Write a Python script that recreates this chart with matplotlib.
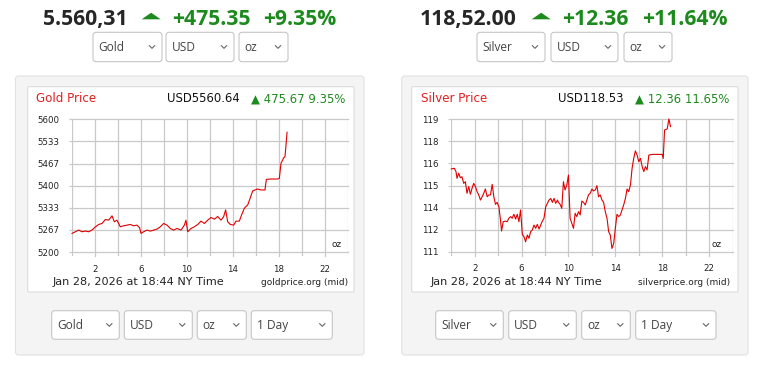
import matplotlib
matplotlib.use('Agg')
import matplotlib.pyplot as plt
from matplotlib.patches import FancyBboxPatch, Polygon
from matplotlib.lines import Line2D
from matplotlib.transforms import Affine2D
import numpy as np

# ---------------- data ----------------
gold_hours = [0.00, 0.29, 0.58, 0.87, 1.16, 1.45, 1.74, 1.97, 2.32, 2.61, 2.90, 3.19, 3.48, 3.68,
              3.91, 4.20, 4.49, 4.78, 5.07, 5.36, 5.65, 5.88, 6.00, 6.23, 6.52, 6.81, 7.10, 7.39,
              7.68, 7.97, 8.26, 8.55, 8.84, 9.13, 9.48, 9.77, 9.91, 10.06, 10.35, 10.64, 10.93,
              11.22, 11.51, 11.80, 12.09, 12.38, 12.67, 12.96, 13.19, 13.36, 13.54, 13.77, 14.06,
              14.26, 14.55, 14.75, 14.99, 15.28, 15.51, 15.71, 15.91, 16.14, 16.43, 16.78, 16.90,
              17.30, 17.88, 18.03, 18.17, 18.41, 18.52, 18.61, 18.70]
gold_prices = [5256, 5261, 5266, 5261, 5263, 5261, 5266, 5274, 5283, 5286, 5298, 5296, 5309, 5291,
               5296, 5276, 5279, 5281, 5283, 5279, 5281, 5273, 5256, 5261, 5266, 5263, 5266, 5269,
               5276, 5286, 5281, 5271, 5266, 5271, 5266, 5281, 5296, 5261, 5271, 5276, 5283,
               5293, 5286, 5296, 5304, 5299, 5307, 5296, 5307, 5327, 5291, 5283, 5281,
               5293, 5293, 5312, 5332, 5342, 5364, 5384, 5387, 5390, 5387, 5387, 5419,
               5420, 5420, 5422, 5467, 5484, 5487, 5523, 5561]

silver_hours = [0.00, 0.26, 0.40, 0.49, 0.63, 0.77, 0.91, 1.06, 1.20, 1.34, 1.49, 1.63, 1.77, 1.91,
                2.06, 2.20, 2.34, 2.49, 2.63, 2.77, 2.91, 3.06, 3.20, 3.34, 3.49, 3.63, 3.77, 3.91,
                4.06, 4.20, 4.29, 4.43, 4.63, 4.77, 4.91, 5.06, 5.20, 5.34, 5.49, 5.63, 5.77, 5.91,
                6.06, 6.20, 6.34, 6.49, 6.63, 6.77, 6.91, 7.06, 7.20, 7.34, 7.49, 7.63, 7.77, 7.91,
                8.06, 8.20, 8.34, 8.49, 8.63, 8.77, 8.91, 9.06, 9.14, 9.29, 9.43, 9.57, 9.71, 9.86,
                10.00, 10.14, 10.29, 10.43, 10.57, 10.71, 10.86, 11.00, 11.14, 11.29, 11.43, 11.57,
                11.71, 11.86, 12.00, 12.14, 12.29, 12.43, 12.57, 12.71, 12.86, 13.00, 13.14, 13.29,
                13.43, 13.57, 13.71, 13.86, 14.00, 14.14, 14.29, 14.43, 14.57, 14.71, 14.86, 15.00,
                15.14, 15.29, 15.43, 15.57, 15.71, 15.86, 16.00, 16.14, 16.29, 16.43, 16.57, 16.71,
                16.86, 17.14, 17.57, 18.00, 18.09, 18.20, 18.43, 18.57, 18.71]
silver_prices = [116.00, 116.04, 115.84, 115.43, 115.74, 115.47, 115.53, 115.13, 115.23, 114.53,
                 114.93, 114.47, 114.83, 115.13, 114.93, 114.63, 114.43, 114.12, 114.32, 114.53,
                 114.79, 114.32, 114.43, 114.43, 115.07, 114.32, 113.86, 113.98, 113.72, 112.91,
                 112.25, 112.81, 112.85, 112.81, 113.02, 113.12, 113.02, 113.26, 112.97, 113.26,
                 112.81, 113.52, 112.05, 111.91, 111.60, 112.01, 111.81, 112.21, 112.31, 112.61,
                 112.41, 112.65, 112.37, 112.61, 112.85, 113.02, 113.72, 113.92, 114.12, 114.22,
                 113.98, 114.22, 113.92, 114.12, 113.98, 113.86, 113.62, 115.23, 114.73, 115.03,
                 115.63, 113.02, 112.71, 112.41, 113.32, 113.12, 113.42, 113.22, 114.06, 113.98,
                 113.82, 114.12, 114.43, 114.53, 114.79, 114.67, 114.73, 114.99, 114.32, 114.43,
                 114.12, 113.98, 113.42, 113.02, 112.21, 112.01, 111.20, 111.50, 112.41, 113.26,
                 113.12, 113.22, 113.52, 113.82, 114.22, 114.79, 114.63, 115.03, 116.04, 116.64,
                 117.09, 116.84, 116.44, 116.64, 116.14, 115.84, 116.14, 115.94, 116.84, 116.88,
                 116.88, 116.88, 116.64, 118.35, 118.42, 119.02, 118.56]

x_tick_pos = [2, 6, 10, 14, 18, 22]
x_tick_labels = ['2', '6', '10', '14', '18', '22']
gold_ytick_labels = ['5200', '5267', '5333', '5400', '5467', '5533', '5600']
gold_range = (5200, 5600)
silver_ytick_labels = ['111', '112', '114', '115', '116', '118', '119']
silver_range = (111, 119)

# ---------------- figure helpers ----------------
W, H = 761, 369
fig = plt.figure(figsize=(W / 100, H / 100), dpi=100)
fig.patch.set_facecolor('white')
T = Affine2D().scale(1 / W, -1 / H).translate(0, 1) + fig.transFigure

GREEN = '#1d8a1d'
DARK = '#262626'
RED = '#e21f1f'
GRID = '#c9c9c9'
UIFONT = 'Open Sans'
CHFONT = 'DejaVu Sans'


def rbox(x0, y0, x1, y1, fc, ec, r=3, lw=0.8, z=0):
    p = FancyBboxPatch((x0, y0), x1 - x0, y1 - y0,
                       boxstyle=f"round,pad=0,rounding_size={r}",
                       transform=T, fc=fc, ec=ec, lw=lw, zorder=z)
    fig.add_artist(p)


def txt(x, y, s, **kw):
    kw.setdefault('va', 'baseline')
    fig.text(x, y, s, transform=T, **kw)


def select(x0, x1, y0, y1, label):
    rbox(x0, y0, x1, y1, 'white', '#c6c6c6', r=3, lw=0.8, z=2)
    cy = (y0 + y1) / 2
    txt(x0 + 5.5, cy + 4, label, fontsize=8.6, family=UIFONT, color='#444444', zorder=3)
    cx = x1 - 10
    fig.add_artist(Line2D([cx - 2.6, cx, cx + 2.6], [cy - 1.3, cy + 1.3, cy - 1.3],
                          transform=T, color='#666666', lw=0.8, zorder=3))


def tri(x0, x1, y0, y1):
    fig.add_artist(Polygon([[x0, y1], [x1, y1], [(x0 + x1) / 2, y0]], closed=True,
                           transform=T, fc=GREEN, ec='none', zorder=3))


def chart(left, right, top, bottom_val_y, hours, prices, yrange, ylabels):
    ext = 4.0
    ax = fig.add_axes([left / W, 1 - (bottom_val_y + ext) / H,
                       (right - left) / W, (bottom_val_y + ext - top) / H])
    ax.set_zorder(5)
    lo, hi = yrange
    per_px = (hi - lo) / (bottom_val_y - top)
    ax.set_xlim(0, 24)
    ax.set_ylim(lo - ext * per_px, hi)
    ax.set_xticks(x_tick_pos)
    ax.set_xticklabels(x_tick_labels)
    ax.set_xticks(np.arange(0, 25, 4), minor=True)
    ax.set_yticks(np.linspace(lo, hi, len(ylabels)))
    ax.set_yticklabels(ylabels)
    ax.grid(True, which='both', axis='x', color=GRID, lw=0.9)
    ax.grid(True, which='major', axis='y', color=GRID, lw=0.9)
    for ln in ax.get_xgridlines() + ax.get_ygridlines():
        ln.set_clip_on(False)
    ax.tick_params(axis='x', which='both', length=0, pad=6.2, labelsize=6.2,
                   labelcolor='#222222')
    ax.tick_params(axis='y', length=2.3, width=0.9, color=GRID, pad=6.8,
                   labelsize=6.2, labelcolor='#222222')
    for lab in ax.get_xticklabels() + ax.get_yticklabels():
        lab.set_family(CHFONT)
    for s in ax.spines.values():
        s.set_visible(False)
    ax.set_facecolor('none')
    ax.set_axisbelow(True)
    ax.plot(hours, prices, color='#e00000', lw=0.8, zorder=3, clip_on=False)
    return ax


# ---------------- left (gold) ----------------
rbox(15.5, 76, 364, 355, '#f4f4f4', '#e2e2e2', r=3, lw=0.8)
rbox(27.7, 86.7, 354, 292, 'white', '#dcdcdc', r=1, lw=0.8, z=1)

txt(43, 25, '5.560,31', fontsize=15.2, family=UIFONT, weight='bold', color=DARK)
tri(141.7, 160.7, 12.7, 19.3)
txt(172, 25, '+475.35', fontsize=15.2, family=UIFONT, weight='bold', color=GREEN)
txt(263, 25, '+9.35%', fontsize=15.2, family=UIFONT, weight='bold', color=GREEN)

select(93, 162, 32.3, 61.7, 'Gold')
select(166, 234, 32.3, 61.7, 'USD')
select(239, 288, 32.3, 61.7, 'oz')

txt(36.5, 102.3, 'Gold Price', fontsize=8.6, family=CHFONT, color=RED, zorder=4)
txt(167, 102.3, 'USD5560.64', fontsize=8.4, family=CHFONT, color='#111111', zorder=4)
txt(345, 102.3, '\u25B2 475.67 9.35%', fontsize=8.4, family=CHFONT, color=GREEN,
    ha='right', zorder=4)

chart(72, 348, 119.3, 252, gold_hours, gold_prices, gold_range, gold_ytick_labels)
txt(336.7, 246.7, 'oz', fontsize=6.4, family=CHFONT, color='#222222', ha='center', zorder=6)
txt(52.7, 285, 'Jan 28, 2026 at 18:44 NY Time', fontsize=8.1, family=CHFONT,
    color='#222222', zorder=4)
txt(347.7, 285, 'goldprice.org (mid)', fontsize=6.5, family=CHFONT, color='#222222',
    ha='right', zorder=4)

select(51.7, 119.3, 310.7, 339.3, 'Gold')
select(124.3, 192.3, 310.7, 339.3, 'USD')
select(197.3, 246.3, 310.7, 339.3, 'oz')
select(251.3, 332.3, 310.7, 339.3, '1 Day')

# ---------------- right (silver) ----------------
rbox(401.7, 76, 748, 355, '#f4f4f4', '#e2e2e2', r=3, lw=0.8)
rbox(411.7, 86.7, 738, 292, 'white', '#dcdcdc', r=1, lw=0.8, z=1)

txt(420, 25, '118,52.00', fontsize=15.2, family=UIFONT, weight='bold', color=DARK)
tri(531.7, 550.7, 12.7, 19.3)
txt(561.7, 25, '+12.36', fontsize=15.2, family=UIFONT, weight='bold', color=GREEN)
txt(641.7, 25, '+11.64%', fontsize=15.2, family=UIFONT, weight='bold', color=GREEN)

select(477, 545, 32.3, 61.7, 'Silver')
select(551, 618, 32.3, 61.7, 'USD')
select(624, 672, 32.3, 61.7, 'oz')

txt(421, 102.3, 'Silver Price', fontsize=8.6, family=CHFONT, color=RED, zorder=4)
txt(558.3, 102.3, 'USD118.53', fontsize=8.4, family=CHFONT, color='#111111', zorder=4)
txt(729, 102.3, '\u25B2 12.36 11.65%', fontsize=8.4, family=CHFONT, color=GREEN,
    ha='right', zorder=4)

chart(451.3, 732.5, 119.3, 251.7, silver_hours, silver_prices, silver_range, silver_ytick_labels)
txt(716.7, 246.7, 'oz', fontsize=6.4, family=CHFONT, color='#222222', ha='center', zorder=6)
txt(431, 285, 'Jan 28, 2026 at 18:44 NY Time', fontsize=8.1, family=CHFONT,
    color='#222222', zorder=4)
txt(730, 285, 'silverprice.org (mid)', fontsize=6.5, family=CHFONT, color='#222222',
    ha='right', zorder=4)

select(435.7, 503.3, 310.7, 339.3, 'Silver')
select(508.7, 576.3, 310.7, 339.3, 'USD')
select(581.7, 630.3, 310.7, 339.3, 'oz')
select(635.7, 716, 310.7, 339.3, '1 Day')

fig.savefig('out.png', dpi=100, facecolor='white')
